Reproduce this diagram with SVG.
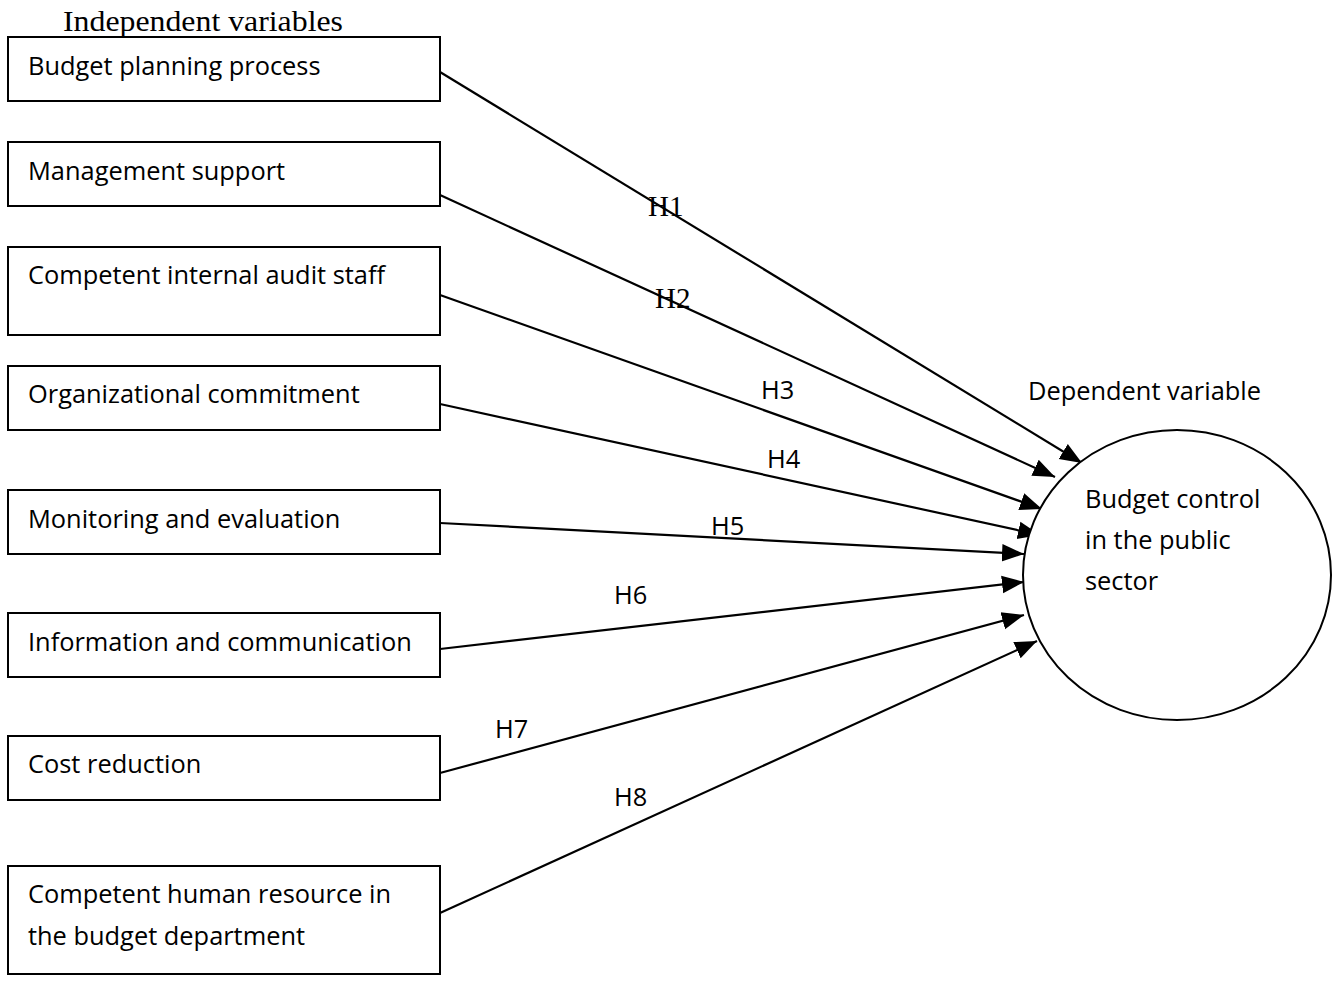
<svg xmlns="http://www.w3.org/2000/svg" width="1332" height="982" viewBox="0 0 1332 982">
<style>
.box{fill:#fff;stroke:#000;stroke-width:2}
.t{font-family:"Open Sans","Liberation Sans",Arial,sans-serif;font-size:25.4px;fill:#000}
.s{font-family:"Liberation Serif","Times New Roman",serif;font-size:29px;fill:#000}
.c line{stroke:#000;stroke-width:2.2;fill:none}
</style>
<defs>
<marker id="a" viewBox="0 0 10 10" refX="10" refY="5" markerWidth="22" markerHeight="22" markerUnits="userSpaceOnUse" orient="auto">
<path d="M0,1 L10,5 L0,9 z" fill="#000"/>
</marker>
</defs>
<rect width="1332" height="982" fill="#fff"/>
<text class="s" x="63" y="31" textLength="280" lengthAdjust="spacingAndGlyphs">Independent variables</text>
<text class="t" x="1028" y="400">Dependent variable</text>
<g class="c" id="connectors">
<line x1="440" y1="72" x2="1082" y2="463" marker-end="url(#a)"/>
<line x1="440" y1="195" x2="1055" y2="477" marker-end="url(#a)"/>
<line x1="440" y1="295" x2="1042" y2="509" marker-end="url(#a)"/>
<line x1="440" y1="404" x2="1040" y2="535" marker-end="url(#a)"/>
<line x1="440" y1="523" x2="1024" y2="554" marker-end="url(#a)"/>
<line x1="440" y1="649" x2="1024" y2="582" marker-end="url(#a)"/>
<line x1="440" y1="773" x2="1024" y2="615" marker-end="url(#a)"/>
<line x1="440" y1="913" x2="1037" y2="641" marker-end="url(#a)"/>
<text class="s" x="648" y="216">H1</text>
<text class="s" x="655" y="308">H2</text>
<text class="t" x="761" y="399">H3</text>
<text class="t" x="767" y="468">H4</text>
<text class="t" x="711" y="535">H5</text>
<text class="t" x="614" y="604">H6</text>
<text class="t" x="495" y="738">H7</text>
<text class="t" x="614" y="806">H8</text>
</g>
<g id="n1"><rect class="box" x="8" y="37" width="432" height="64"/><text class="t" x="28" y="75">Budget planning process</text></g>
<g id="n2"><rect class="box" x="8" y="142" width="432" height="64"/><text class="t" x="28" y="180">Management support</text></g>
<g id="n3"><rect class="box" x="8" y="247" width="432" height="88"/><text class="t" x="28" y="284">Competent internal audit staff</text></g>
<g id="n4"><rect class="box" x="8" y="366" width="432" height="64"/><text class="t" x="28" y="403">Organizational commitment</text></g>
<g id="n5"><rect class="box" x="8" y="490" width="432" height="64"/><text class="t" x="28" y="528">Monitoring and evaluation</text></g>
<g id="n6"><rect class="box" x="8" y="613" width="432" height="64"/><text class="t" x="28" y="651">Information and communication</text></g>
<g id="n7"><rect class="box" x="8" y="736" width="432" height="64"/><text class="t" x="28" y="773">Cost reduction</text></g>
<g id="n8"><rect class="box" x="8" y="866" width="432" height="108"/><text class="t" x="28" y="903">Competent human resource in</text><text class="t" x="28" y="945">the budget department</text></g>
<g id="n9"><ellipse cx="1177" cy="575" rx="154" ry="145" fill="#fff" stroke="#000" stroke-width="2"/>
<text class="t" x="1085" y="508">Budget control</text><text class="t" x="1085" y="549">in the public</text><text class="t" x="1085" y="590">sector</text></g>
</svg>
